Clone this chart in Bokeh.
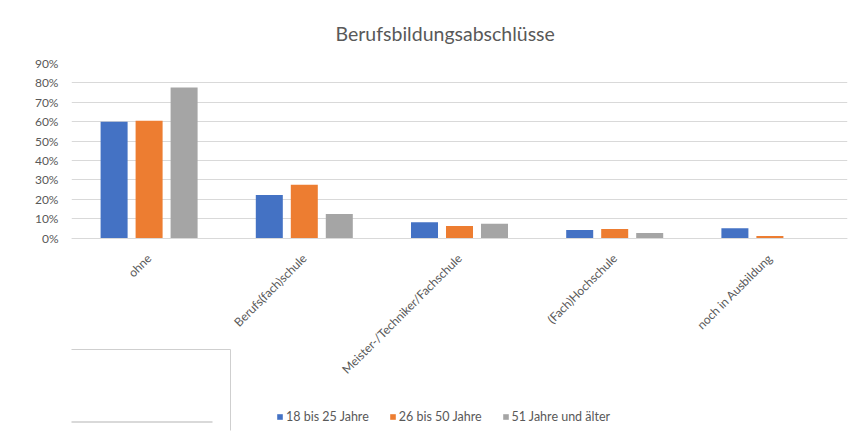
from math import pi
from bokeh.plotting import figure
from bokeh.models import (ColumnDataSource, FactorRange, Range1d, Legend, LegendItem,
                          NumeralTickFormatter, FixedTicker)
from bokeh.transform import dodge
from bokeh.embed import file_html
from bokeh.resources import INLINE

# ---- data ----
categories = ["ohne", "Berufs(fach)schule", "Meister-/Techniker/Fachschule",
              "(Fach)Hochschule", "noch in Ausbildung"]
series_names = ["18 bis 25 Jahre", "26 bis 50 Jahre", "51 Jahre und älter"]
age_18_25 = [0.600, 0.222, 0.081, 0.041, 0.050]
age_26_50 = [0.605, 0.274, 0.062, 0.046, 0.010]
age_51_up = [0.776, 0.124, 0.074, 0.026, 0.000]
y_ticks = [0.0, 0.1, 0.2, 0.3, 0.4, 0.5, 0.6, 0.7, 0.8, 0.9]
title_text = "Berufsbildungsabschlüsse"
colors = ["#4472C4", "#ED7D31", "#A5A5A5"]

FONT = "Lato"
TXT = "#595959"

# ---- layout (page pixels) ----
W, H = 854, 435
FL, FR, FT, FB = 71, 847, 63, 430      # frame edges
Y0_PX = 237.5                           # where 0 % sits
Y_TOP = 0.9
px_per_unit = (Y0_PX - FT) / Y_TOP
y_start = -(FB - Y0_PX) / px_per_unit

source = ColumnDataSource(dict(cat=categories, s0=age_18_25, s1=age_26_50, s2=age_51_up))

p = figure(width=W, height=H, output_backend="svg", toolbar_location=None,
           x_range=FactorRange(factors=categories, range_padding=0),
           y_range=Range1d(y_start, Y_TOP),
           min_border_left=FL, min_border_right=W - FR, min_border_top=FT,
           min_border_bottom=H - FB, outline_line_color=None)

offsets = [-0.2255, 0.0, 0.2255]
renderers = []
for i, key in enumerate(["s0", "s1", "s2"]):
    r = p.vbar(x=dodge("cat", offsets[i], range=p.x_range), top=key, width=0.174,
               source=source, fill_color=colors[i], line_color=None)
    renderers.append(r)

# title
p.title.text = title_text
p.title.align = "left"
p.title.offset = 264
p.title.text_font = FONT
p.title.text_font_size = "19.5px"
p.title.text_font_style = "normal"
p.title.text_color = TXT
p.title.standoff = 38

# axes
p.yaxis.ticker = FixedTicker(ticks=y_ticks)
p.yaxis.formatter = NumeralTickFormatter(format="0%")
p.yaxis.axis_line_color = None
p.yaxis.major_tick_line_color = None
p.yaxis.minor_tick_line_color = None
p.yaxis.major_tick_out = 0
p.yaxis.major_label_text_color = TXT
p.yaxis.major_label_text_font = FONT
p.yaxis.major_label_text_font_size = "12px"
p.yaxis.major_label_standoff = 13

p.xaxis.fixed_location = 0
p.xaxis.axis_line_color = "#D9D9D9"
p.xaxis.major_tick_line_color = None
p.xaxis.minor_tick_line_color = None
p.xaxis.major_tick_out = 0
p.xaxis.major_label_orientation = pi / 4
p.xaxis.major_label_text_color = TXT
p.xaxis.major_label_text_font = FONT
p.xaxis.major_label_text_font_size = "12px"
p.xaxis.major_label_standoff = 18

p.xgrid.grid_line_color = None
p.ygrid.grid_line_color = "#D9D9D9"

# legend, below the category labels
legend = Legend(items=[LegendItem(label=series_names[i], renderers=[renderers[i]]) for i in range(3)],
                orientation="horizontal", location=(205, 6), border_line_color=None,
                background_fill_alpha=0, label_text_font=FONT, label_text_font_size="12.5px",
                label_text_color=TXT, glyph_width=7, glyph_height=7, label_standoff=3,
                label_height=14, spacing=20, padding=2, margin=0)
p.add_layout(legend, "center")

# edge of an overlapping window seen in the screenshot (bottom left)
def sx(page_x):
    return (page_x - FL) / ((FR - FL) / len(categories))

def sy(page_y):
    return (Y0_PX - page_y) / px_per_unit

p.quad(left=[sx(40)], right=[sx(230)], top=[sy(349)], bottom=[sy(445)],
       fill_color="white", line_color="#CFCFCF", line_width=1)
p.quad(left=[sx(40)], right=[sx(212)], top=[sy(420.5)], bottom=[sy(422.5)],
       fill_color="#D9D9D9", line_color=None)

open("out.html", "w").write(file_html(p, INLINE))
